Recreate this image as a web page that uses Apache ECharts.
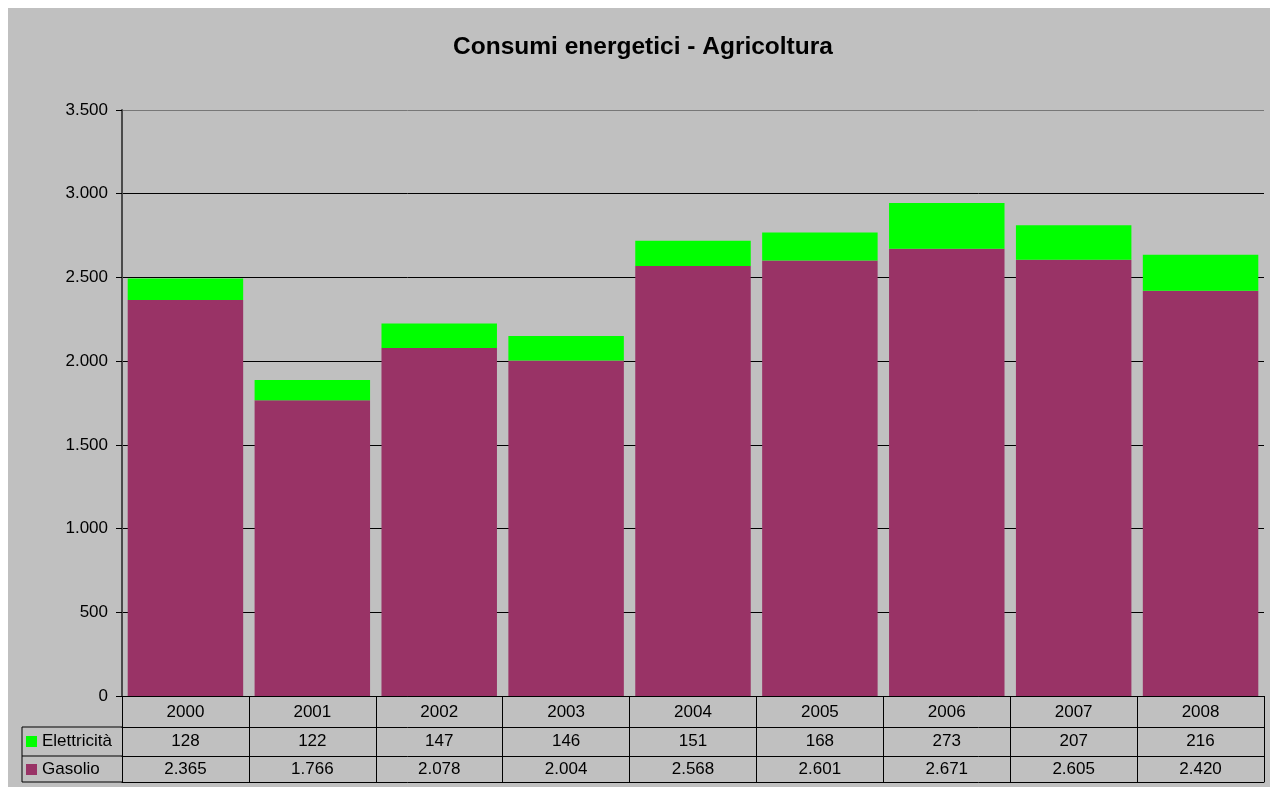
<!DOCTYPE html>
<html>
<head>
<meta charset="utf-8">
<title>Consumi energetici - Agricoltura</title>
<script src="https://cdn.jsdelivr.net/npm/echarts@6/dist/echarts.min.js"></script>
<style>
  html, body { margin: 0; padding: 0; background: #fff; }
  #bg { position: absolute; left: 8px; top: 8px; width: 1262px; height: 779px; background: #c0c0c0; }
  #chart { position: absolute; left: 0; top: 0; width: 1270px; height: 787px; }
</style>
</head>
<body>
<div id="bg"></div>
<div id="chart"></div>
<script>
// data
const years = ['2000', '2001', '2002', '2003', '2004', '2005', '2006', '2007', '2008']
const elettricita = [128, 122, 147, 146, 151, 168, 273, 207, 216]
const gasolio = [2365, 1766, 2078, 2004, 2568, 2601, 2671, 2605, 2420]

const FONT = '"Liberation Sans", Arial, sans-serif'
const GREEN = '#00ff00'
const PLUM = '#993366'
const FS = 17

// italian thousands separator
const fmt = n => String(n).replace(/\B(?=(\d{3})+(?!\d))/g, '.')

const chart = echarts.init(document.getElementById('chart'))

// extra category axes used as the rows of the data table
const rowAxis = (offset, margin, values) => ({
  type: 'category',
  data: years,
  position: 'bottom',
  offset,
  gridIndex: 0,
  axisLine: { show: true, onZero: false, lineStyle: { color: '#000', width: 1 } },
  axisTick: { show: false },
  axisLabel: values
    ? { show: true, interval: 0, margin, color: '#000', fontSize: FS, fontFamily: FONT, lineHeight: 17,
        formatter: (v, i) => fmt(values[i]) }
    : { show: false },
  splitLine: { show: false }
})

const option = {
  backgroundColor: 'transparent',
  animation: false,
  textStyle: { fontFamily: FONT, color: '#000' },
  title: {
    text: 'Consumi energetici - Agricoltura',
    left: 638,
    textAlign: 'center',
    top: 30,
    textStyle: { fontSize: 24.5, fontWeight: 'bold', color: '#000', fontFamily: FONT }
  },
  legend: {
    orient: 'vertical',
    left: 26,
    top: 733,
    padding: 0,
    itemWidth: 11,
    itemHeight: 11,
    itemGap: 11,
    icon: 'rect',
    selectedMode: false,
    data: ['Elettricità', 'Gasolio'],
    textStyle: { fontSize: FS, color: '#000', fontFamily: FONT, lineHeight: 17 }
  },
  grid: { left: 122, right: 6, top: 110, bottom: 91, containLabel: false },
  xAxis: [
    {
      type: 'category',
      data: years,
      position: 'bottom',
      boundaryGap: true,
      axisLine: { show: true, onZero: false, lineStyle: { color: '#000', width: 1 } },
      axisTick: { show: true, interval: 0, length: 86, lineStyle: { color: '#000', width: 1 } },
      axisLabel: { interval: 0, margin: 8, color: '#000', fontSize: FS, fontFamily: FONT, lineHeight: 17 },
      splitLine: { show: false }
    },
    rowAxis(31, 6, elettricita),
    rowAxis(60, 5, gasolio),
    rowAxis(86, 0, null)
  ],
  yAxis: {
    type: 'value',
    min: 0,
    max: 3500,
    interval: 500,
    axisLine: { show: true, lineStyle: { color: '#4a4a4a', width: 2 } },
    axisTick: { show: true, length: 6, lineStyle: { color: '#000', width: 1 } },
    axisLabel: { margin: 14, color: '#000', fontSize: FS, fontFamily: FONT, formatter: v => fmt(v) },
    splitLine: {
      show: true,
      lineStyle: { color: ['#000', '#000', '#000', '#000', '#000', '#000', '#000', '#777'], width: 1 }
    }
  },
  series: [
    {
      name: 'Gasolio',
      type: 'bar',
      stack: 'tot',
      data: gasolio,
      barCategoryGap: '9%',
      itemStyle: { color: PLUM }
    },
    {
      name: 'Elettricità',
      type: 'bar',
      stack: 'tot',
      data: elettricita,
      barCategoryGap: '9%',
      itemStyle: { color: GREEN }
    }
  ],
  // left frame of the data table (legend column)
  graphic: [
    { type: 'line', shape: { x1: 22, y1: 727, x2: 122, y2: 727 }, style: { stroke: '#000', lineWidth: 1 } },
    { type: 'line', shape: { x1: 22, y1: 756, x2: 122, y2: 756 }, style: { stroke: '#000', lineWidth: 1 } },
    { type: 'line', shape: { x1: 22, y1: 782, x2: 122, y2: 782 }, style: { stroke: '#000', lineWidth: 1 } },
    { type: 'line', shape: { x1: 22, y1: 727, x2: 22, y2: 782 }, style: { stroke: '#000', lineWidth: 1 } }
  ]
}

chart.setOption(option)
</script>
</body>
</html>
